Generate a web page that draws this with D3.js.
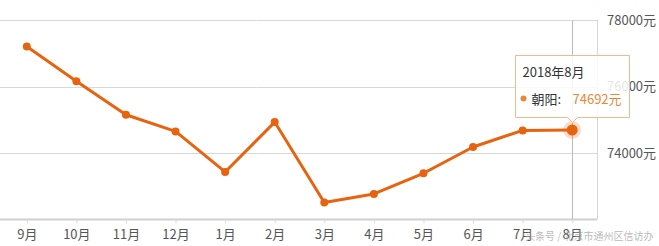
<!DOCTYPE html>
<html>
<head>
<meta charset="utf-8">
<script src="https://cdn.jsdelivr.net/npm/d3@7"></script>
<style>
  body { margin: 0; background: #fff; }
  svg { display: block; font-family: "Noto Sans CJK SC", "Noto Sans", sans-serif; }
</style>
</head>
<body>
<div id="chart"></div>
<script>
const months = ["9月", "10月", "11月", "12月", "1月", "2月", "3月", "4月", "5月", "6月", "7月", "8月"];
const prices = [77200, 76160, 75150, 74650, 73430, 74930, 72510, 72770, 73390, 74180, 74680, 74692];
const yTicks = [74000, 76000, 78000];
const tipTitle = "2018年8月";
const seriesName = "朝阳";

const width = 659, height = 246;
const margin = { top: 20, right: 62, bottom: 27, left: 2 };
const lineColor = "#e8630f";

const svg = d3.select("#chart").append("svg")
  .attr("width", width)
  .attr("height", height);

const x = d3.scalePoint()
  .domain(months)
  .range([margin.left, width - margin.right])
  .padding(0.5);

const y = d3.scaleLinear()
  .domain([72000, 78000])
  .range([height - margin.bottom + 0.5, margin.top]);

// grid lines
svg.append("g")
  .selectAll("line")
  .data(yTicks)
  .join("line")
  .attr("x1", 0)
  .attr("x2", width - margin.right)
  .attr("y1", d => Math.round(y(d)) + 0.5)
  .attr("y2", d => Math.round(y(d)) + 0.5)
  .attr("stroke", "#d8d8d8");

// right border of plot
svg.append("line")
  .attr("x1", width - margin.right + 0.5)
  .attr("x2", width - margin.right + 0.5)
  .attr("y1", margin.top)
  .attr("y2", y(72000))
  .attr("stroke", "#d8d8d8");

// y labels
svg.append("g")
  .selectAll("text")
  .data(yTicks)
  .join("text")
  .attr("x", width - margin.right + 10)
  .attr("y", d => y(d))
  .attr("dy", "0.35em")
  .attr("font-size", 13)
  .attr("fill", "#555")
  .text(d => d + "元");

// x axis
const gx = svg.append("g")
  .attr("transform", `translate(0,${Math.round(y(72000)) - 0.5})`)
  .call(d3.axisBottom(x).tickSize(4).tickPadding(6))
  .attr("font-family", null)
  .attr("font-size", 13);
gx.select(".domain").attr("stroke", "#d0d0d0").attr("stroke-width", 2)
  .attr("d", `M0,0H${width - margin.right}`);
gx.selectAll(".tick line").attr("stroke", "#ddd");
gx.selectAll(".tick text").attr("fill", "#555");

// crosshair at last month
const last = months.length - 1;
svg.append("line")
  .attr("x1", Math.round(x(months[last])) + 0.5)
  .attr("x2", Math.round(x(months[last])) + 0.5)
  .attr("y1", margin.top)
  .attr("y2", y(72000))
  .attr("stroke", "#bbb");

// line
const line = d3.line()
  .x((d, i) => x(months[i]))
  .y(d => y(d));

svg.append("path")
  .datum(prices)
  .attr("fill", "none")
  .attr("stroke", lineColor)
  .attr("stroke-width", 3)
  .attr("stroke-linejoin", "round")
  .attr("d", line);

svg.append("g")
  .selectAll("circle")
  .data(prices.slice(0, last))
  .join("circle")
  .attr("cx", (d, i) => x(months[i]))
  .attr("cy", d => y(d))
  .attr("r", 4)
  .attr("fill", lineColor);

// highlighted point
svg.append("circle")
  .attr("cx", x(months[last]))
  .attr("cy", y(prices[last]))
  .attr("r", 9)
  .attr("fill", lineColor)
  .attr("fill-opacity", 0.22);
svg.append("circle")
  .attr("cx", x(months[last]))
  .attr("cy", y(prices[last]))
  .attr("r", 5.5)
  .attr("fill", lineColor);

// tooltip
const tipX = 515.5, tipY = 55.5, tipW = 114, tipH = 62;
const ax = Math.round(x(months[last])) + 0.5;
const tip = svg.append("g");
tip.append("path")
  .attr("d", `M${tipX},${tipY}H${tipX + tipW}V${tipY + tipH}H${ax + 5}L${ax},${tipY + tipH + 5}L${ax - 5},${tipY + tipH}H${tipX}Z`)
  .attr("fill", "rgba(255,255,255,0.85)")
  .attr("stroke", "#f2b98a");
tip.append("text")
  .attr("x", tipX + 7)
  .attr("y", tipY + 21)
  .attr("font-size", 13)
  .attr("fill", "#333")
  .text(tipTitle);
tip.append("circle")
  .attr("cx", tipX + 8)
  .attr("cy", tipY + 43)
  .attr("r", 3)
  .attr("fill", "#e8873a");
tip.append("text")
  .attr("x", tipX + 16)
  .attr("y", tipY + 48)
  .attr("font-size", 13)
  .attr("fill", "#333")
  .text(seriesName + ":");
tip.append("text")
  .attr("x", tipX + 57)
  .attr("y", tipY + 48)
  .attr("font-size", 13)
  .attr("fill", "#e8873a")
  .text(prices[last] + "元");

// watermark
svg.append("text")
  .attr("x", 525)
  .attr("y", 240)
  .attr("font-size", 10)
  .attr("fill", "#999")
  .attr("fill-opacity", 0.7)
  .text("头条号 / 北京市通州区信访办");
</script>
</body>
</html>
